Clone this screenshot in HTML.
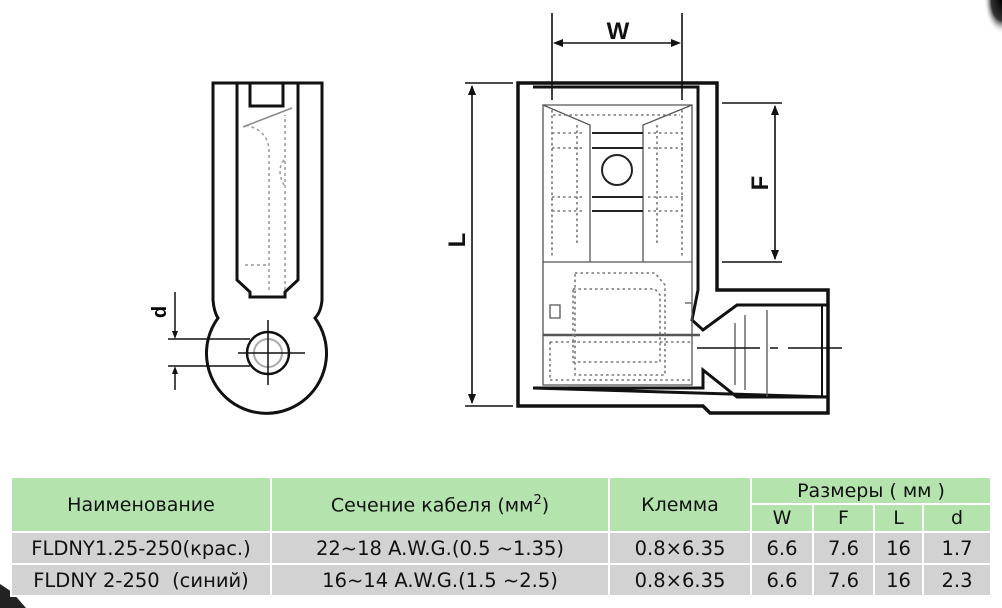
<!DOCTYPE html>
<html><head><meta charset="utf-8"><style>
html,body{margin:0;padding:0;background:#fff;}
body{width:1002px;height:608px;position:relative;overflow:hidden;font-family:"DejaVu Sans","Liberation Sans",sans-serif;}
svg{position:absolute;left:0;top:0;}
table{position:absolute;left:10px;top:476px;border-collapse:collapse;font-size:19px;color:#111;table-layout:fixed;width:980px;}
td{border:2px solid #fff;text-align:center;padding:0;white-space:nowrap;overflow:visible;}
.h td{background:#b4e3ae;}
.r td{background:#d2d2d2;height:30px;font-size:19.5px;}
</style></head><body>
<svg width="1002" height="608" viewBox="0 0 1002 608">
<defs>
<radialGradient id="g1" cx="1" cy="0" r="1"><stop offset="0" stop-color="#000"/><stop offset="0.6" stop-color="#333"/><stop offset="1" stop-color="#fff" stop-opacity="0"/></radialGradient>
</defs>
<rect x="984" y="0" width="18" height="34" fill="url(#g1)"/>
<path d="M0 584 L12 592 L26 608 L0 608Z" fill="#222"/>
<g fill="none" stroke="#111" stroke-width="3">
<path d="M213 83 L213 300 Q214 312 218 318 A60 60 0 1 0 315 318 Q321 312 322 300 L322 83 Z" fill="#fff"/>
<path d="M237 83 L237 280 L250 292 L250 297 L285 297 L285 292 L298 280 L298 83 L283 83 L283 106 L250 106 L250 83"/>
<circle cx="268" cy="353" r="21" stroke-width="2.5"/>
</g>
<g fill="none" stroke="#999" stroke-width="1.5" stroke-dasharray="3,3">
<circle cx="268" cy="353" r="14" stroke-dasharray="none" stroke="#aaa" stroke-width="2"/>
<path d="M269 290 L269 150 Q268 130 245 125"/>
<path d="M285 290 L285 115"/>
<path d="M245 265 L269 265"/>
<path d="M284 160 Q276 170 284 185"/>
</g>
<path d="M243 127 L292 108" stroke="#888" stroke-width="1.5"/>
<g stroke="#111" stroke-width="1.5" fill="none">
<path d="M238 353 L305 353 M268 320 L268 385"/>
<path d="M168 339 L250 339 M168 366 L250 366"/>
<path d="M175 292 L175 336 M175 369 L175 390"/>
</g>
<path d="M175 339 l-3 -8 l6 0z M175 366 l-3 8 l6 0z" fill="#111"/>
<text x="0" y="0" transform="translate(166,312) rotate(-90)" font-family="Liberation Sans,sans-serif" font-weight="bold" font-size="20" text-anchor="middle">d</text>
<g fill="none" stroke="#111" stroke-width="3.5">
<path d="M518 83 L717 83 L717 290 L828 290 L828 413 L710 413 L703 406 L518 406 Z"/>
<path d="M533 87 L698 87 L698 290 L692 320 L703 330 L737 305 L828 305 M828 397 L737 397 L703 370 L703 388 L533 388 Z" stroke-width="3"/>
<path d="M822 305 L822 397" stroke-width="2"/>
</g>
<g fill="none" stroke="#555" stroke-width="1.3">
<path d="M543 105 L692 105 L692 262 L543 262 Z"/>
<path d="M543 105 L590 125 L590 262 M692 105 L643 125 L643 262"/>
<path d="M592 133 L643 133 M592 148 L643 148 M592 197 L643 197 M592 211 L643 211" stroke="#222" stroke-width="2"/>
<circle cx="617" cy="170" r="15" stroke="#222" stroke-width="2"/>
<path d="M543 262 L543 385 L692 385 L692 262"/>
<path d="M543 335 L700 335" stroke-width="2.5"/>
<path d="M550 305 L560 305 L560 318 L550 318 Z M685 303 L692 303 M735 323 L735 385 M745 315 L745 390 M767 310 L767 397"/>
</g>
<g fill="none" stroke="#777" stroke-width="1.6" stroke-dasharray="2.5,3">
<path d="M575 273 L655 273 L665 285 L665 375 L575 375 Z"/>
<path d="M573 289 L655 289 L660 295 L660 362 L573 362 Z"/>
<path d="M553 115 L680 115 M552 133 L585 133 M648 133 L683 133 M552 148 L585 148 M648 148 L683 148 M552 197 L585 197 M648 197 L683 197 M552 211 L585 211 M648 211 L683 211"/>
<path d="M552 110 L552 258 M577 125 L577 245 M657 125 L657 245 M682 110 L682 258"/>
<path d="M550 342 L690 342 M550 380 L690 380 M550 342 L550 380"/>
</g>
<g stroke="#111" stroke-width="1.6" fill="none">
<path d="M552 13 L552 100 M682 13 L682 100 M555 43 L679 43"/>
<path d="M465 83 L513 83 M465 406 L513 406 M472 86 L472 403"/>
<path d="M722 103 L782 103 M722 262 L782 262 M775 106 L775 259"/>
<path d="M697 348 L760 348 M770 348 L778 348 M788 348 L842 348"/>
</g>
<path d="M553 43 l10 -4 l0 8z M681 43 l-10 -4 l0 8z M472 85 l-4 10 l8 0z M472 404 l-4 -10 l8 0z M775 105 l-4 10 l8 0z M775 260 l-4 -10 l8 0z" fill="#111"/>
<g font-family="Liberation Sans,sans-serif" font-weight="bold" font-size="24" fill="#111">
<text x="618" y="39" text-anchor="middle">W</text>
<text x="0" y="0" transform="translate(465,240) rotate(-90)" text-anchor="middle">L</text>
<text x="0" y="0" transform="translate(768,183) rotate(-90)" text-anchor="middle">F</text>
</g>
</svg>
<table>
<colgroup><col style="width:260px"><col style="width:338px"><col style="width:142px"><col style="width:62px"><col style="width:61px"><col style="width:49px"><col style="width:68px"></colgroup>
<tr class="h"><td rowspan="2" style="height:53px">Наименование</td><td rowspan="2">Сечение кабеля (мм<sup style="font-size:13px">2</sup>)</td><td rowspan="2">Клемма</td><td colspan="4" style="height:25px">Размеры ( мм )</td></tr>
<tr class="h"><td style="height:26px">W</td><td>F</td><td>L</td><td>d</td></tr>
<tr class="r"><td>FLDNY1.25-250(крас.)</td><td>22~18 A.W.G.(0.5 ~1.35)</td><td>0.8×6.35</td><td>6.6</td><td>7.6</td><td>16</td><td>1.7</td></tr>
<tr class="r"><td>FLDNY 2-250&nbsp;&nbsp;(синий)</td><td>16~14 A.W.G.(1.5 ~2.5)</td><td>0.8×6.35</td><td>6.6</td><td>7.6</td><td>16</td><td>2.3</td></tr>
</table>
</body></html>
